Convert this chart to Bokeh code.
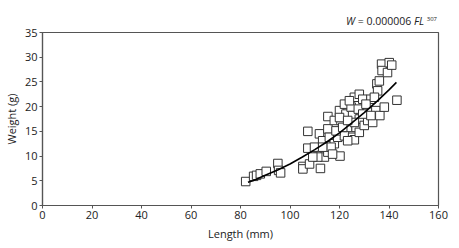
from bokeh.plotting import figure
from bokeh.models import Range1d, FixedTicker, Div
from bokeh.layouts import column
from bokeh.embed import file_html
from bokeh.resources import INLINE

# Scatter data (length mm, weight g)
length = [82.1, 85.3, 86.5, 88.0, 90.4, 95.1, 95.4, 96.2, 105.2, 105.2, 107.2, 107.2, 107.9,
          109.9, 111.9, 112.3, 112.6, 113.2, 113.9, 115.3, 115.3, 115.9, 115.3, 117.9, 117.9,
          119.3, 120.0, 120.2, 120.6, 122.0, 122.0, 122.6, 123.3, 124.7, 125.3, 125.3, 126.0,
          126.0, 126.7, 127.6, 128.0, 128.0, 128.0, 129.4, 130.0, 131.4, 131.4, 132.7, 133.4,
          134.7, 135.1, 135.4, 136.1, 136.3, 137.0, 137.2, 138.1, 139.4, 140.1, 141.1, 143.2,
          111.2, 116.6, 118.6, 121.3, 123.3, 124.0, 126.0, 129.4, 132.7, 130.7, 134.1, 109.2,
          113.2, 117.2, 120.0, 123.3]
weight = [4.85, 5.9, 6.1, 6.4, 6.9, 8.5, 7.1, 6.6, 7.9, 7.4, 15.0, 11.6, 8.4,
          11.8, 14.5, 7.5, 10.1, 13.1, 9.8, 18.0, 15.5, 13.8, 10.8, 17.2, 12.5,
          13.8, 19.2, 10.0, 17.2, 20.5, 14.1, 18.5, 15.8, 19.9, 18.2, 13.8, 21.9,
          13.3, 15.8, 19.5, 22.5, 17.5, 14.8, 21.5, 16.2, 19.2, 17.2, 21.5, 16.8,
          19.2, 24.6, 23.2, 25.2, 18.2, 28.6, 27.3, 19.9, 26.9, 28.9, 28.4, 21.3,
          9.8, 11.8, 15.1, 15.8, 13.1, 21.2, 16.8, 18.5, 18.2, 20.5, 21.9, 9.8,
          11.8, 10.4, 17.8, 17.2]

# Fitted curve, values
fit_len = [83, 85, 90, 95, 100, 105, 110, 115, 120, 125, 130, 135, 140, 143]
fit_wt = [4.7, 5.0, 6.1, 7.2, 8.4, 9.8, 11.3, 12.9, 14.7, 16.7, 18.8, 21.0, 23.4, 24.9]

x_ticks = [0, 20, 40, 60, 80, 100, 120, 140, 160]
y_ticks = [0, 5, 10, 15, 20, 25, 30, 35]

FONT = "Open Sans"
AX = "#555555"
TXT = "#222222"

# header with the equation
eq_html = (
    '<div style="position:relative; width:459px; height:26px; margin:0; padding:0;">'
    '<span style="position:absolute; right:22px; top:16px; white-space:nowrap; '
    'font-family:\'Open Sans\'; font-size:10.5px; line-height:1; color:#222222;">'
    '<i>W</i> = 0.000006 <i>FL</i> '
    '<span style="font-size:6px; position:relative; top:-4px;">307</span>'
    '</span></div>'
)
header = Div(text=eq_html, width=459, height=26, margin=0)

p = figure(width=459, height=222, output_backend="svg", toolbar_location=None,
           x_range=Range1d(0, 160), y_range=Range1d(0, 35),
           min_border_left=41, min_border_right=21, min_border_top=6, min_border_bottom=43)
p.xgrid.visible = False
p.ygrid.visible = False
p.outline_line_color = AX
p.outline_line_width = 1.2

for ax in (p.xaxis[0], p.yaxis[0]):
    ax.axis_line_color = AX
    ax.axis_line_width = 1.2
    ax.major_tick_line_color = AX
    ax.major_tick_out = 3
    ax.major_tick_in = 0
    ax.minor_tick_line_color = None
    ax.major_label_text_font = FONT
    ax.major_label_text_font_size = "11px"
    ax.major_label_text_color = TXT
    ax.axis_label_text_font = FONT
    ax.axis_label_text_font_size = "11px"
    ax.axis_label_text_font_style = "normal"
    ax.axis_label_text_color = TXT
    ax.major_label_standoff = 2
    ax.axis_label_standoff = 4

p.xaxis.ticker = FixedTicker(ticks=x_ticks)
p.yaxis.ticker = FixedTicker(ticks=y_ticks)
p.xaxis.axis_label = "Length (mm)"
p.yaxis.axis_label = "Weight (g)"
p.yaxis.axis_label_standoff = 3

p.scatter(length, weight, marker="square", size=8.5, fill_color="white",
          line_color="#333333", line_width=1)
p.line(fit_len, fit_wt, line_color="black", line_width=1.6)

layout = column(header, p, spacing=0)
open("out.html", "w").write(file_html(layout, INLINE))
